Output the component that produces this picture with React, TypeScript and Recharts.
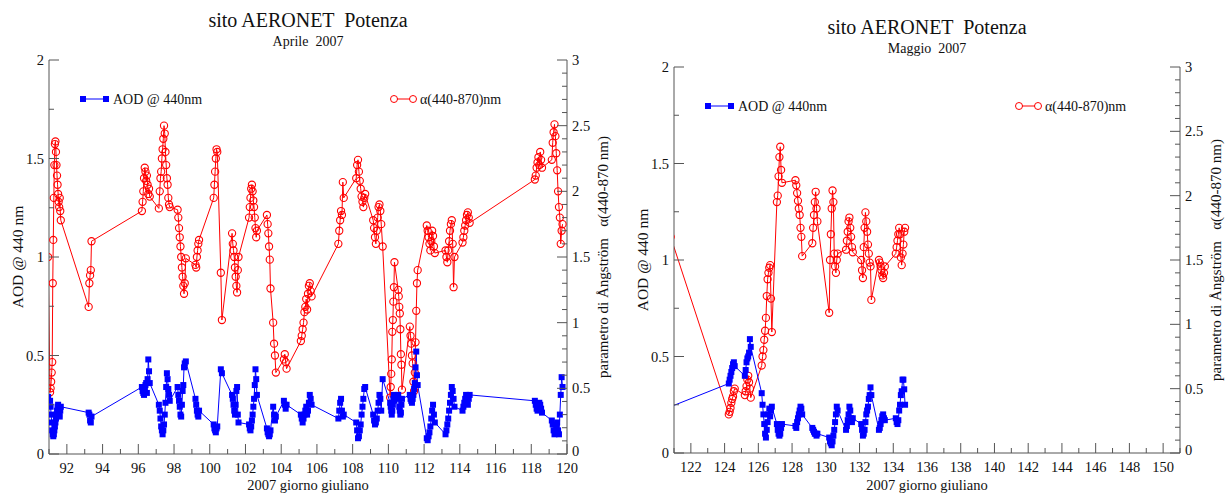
import { ComposedChart, Line, XAxis, YAxis, Legend } from 'recharts';

// ---- April 2007 (giorno giuliano 91-120) ----
const aprDay = [
  90.95,
  91.06, 91.09, 91.12, 91.15, 91.18, 91.21, 91.24, 91.27, 91.3, 91.33, 91.36, 91.39, 91.42, 91.45, 91.48, 91.51, 91.54, 91.57, 91.6, 91.63, 91.66,
  93.22, 93.26, 93.3, 93.34, 93.38,
  96.2, 96.24, 96.28, 96.32, 96.36, 96.4, 96.44, 96.48, 96.52, 96.56, 96.6, 96.64,
  97.15, 97.2, 97.24, 97.28, 97.32, 97.36, 97.4, 97.44, 97.48, 97.52, 97.56, 97.6, 97.64, 97.68, 97.72, 97.76,
  98.2, 98.24, 98.28, 98.32, 98.36, 98.4, 98.44, 98.48, 98.52, 98.56, 98.6, 98.66,
  99.2, 99.24, 99.28, 99.32, 99.36, 99.4,
  100.22, 100.26, 100.3, 100.34, 100.38, 100.42, 100.62, 100.68,
  101.25, 101.29, 101.33, 101.37, 101.41, 101.45, 101.49, 101.53, 101.57, 101.61,
  102.2, 102.24, 102.28, 102.32, 102.36, 102.4, 102.44, 102.48, 102.52, 102.56, 102.6, 102.64,
  103.2, 103.24, 103.28, 103.32, 103.36, 103.4, 103.55, 103.6, 103.65, 103.7,
  104.15, 104.2, 104.25, 104.3,
  105.1, 105.15, 105.2, 105.25, 105.3, 105.35, 105.4, 105.45, 105.5, 105.55, 105.6, 105.65, 105.7,
  107.2, 107.25, 107.3, 107.35, 107.4, 107.45, 107.5,
  108.2, 108.25, 108.3, 108.35, 108.4, 108.45, 108.5, 108.55, 108.6, 108.65, 108.7,
  109.15, 109.2, 109.25, 109.3, 109.35, 109.4, 109.45, 109.5, 109.55, 109.6, 109.68,
  110.1, 110.13, 110.16, 110.19, 110.22, 110.25, 110.28, 110.31, 110.34,
  110.55, 110.58, 110.61, 110.64, 110.67, 110.7, 110.73, 110.76,
  111.2, 111.24, 111.28, 111.32, 111.36, 111.4, 111.44, 111.48, 111.52, 111.56, 111.6, 111.64,
  112.15, 112.2, 112.25, 112.3, 112.35, 112.4, 112.45, 112.5, 112.55, 112.6,
  113.2, 113.25, 113.3, 113.35, 113.4, 113.45, 113.5, 113.55, 113.6, 113.65, 113.7,
  114.15, 114.2, 114.25, 114.3, 114.35, 114.4, 114.45, 114.5, 114.55,
  118.2, 118.25, 118.3, 118.35, 118.4, 118.45, 118.5, 118.55, 118.6,
  119.15, 119.2, 119.25, 119.3, 119.35, 119.4, 119.45, 119.5, 119.55, 119.6, 119.65, 119.7, 119.75,
];
const aprAod = [
  0.29,
  0.27, 0.24, 0.2, 0.16, 0.12, 0.1, 0.09, 0.1, 0.12, 0.14, 0.16, 0.18, 0.2, 0.22, 0.24, 0.25, 0.22, 0.2, 0.19, 0.22, 0.24,
  0.21, 0.2, 0.17, 0.16, 0.19,
  0.34, 0.32, 0.31, 0.3, 0.33, 0.35, 0.36, 0.31, 0.38, 0.48, 0.42, 0.36,
  0.25, 0.22, 0.18, 0.14, 0.12, 0.1, 0.12, 0.15, 0.2, 0.26, 0.34, 0.41, 0.38, 0.33, 0.3, 0.27,
  0.34, 0.3, 0.27, 0.24, 0.2, 0.19, 0.25, 0.32, 0.35, 0.44, 0.46, 0.47,
  0.28, 0.25, 0.22, 0.2, 0.19, 0.22,
  0.15, 0.13, 0.12, 0.11, 0.13, 0.14, 0.43, 0.41,
  0.3, 0.28, 0.25, 0.22, 0.2, 0.25, 0.32, 0.34, 0.2, 0.16,
  0.15, 0.13, 0.12, 0.14, 0.17, 0.2, 0.24, 0.28, 0.35, 0.43, 0.38, 0.3,
  0.13, 0.11, 0.1, 0.09, 0.1, 0.12, 0.24, 0.2, 0.17, 0.19,
  0.27, 0.25, 0.23, 0.25,
  0.2, 0.18, 0.16, 0.18, 0.2, 0.22, 0.24, 0.2, 0.22, 0.26, 0.3, 0.28, 0.25,
  0.18, 0.22, 0.26, 0.28, 0.22, 0.19, 0.2,
  0.16, 0.12, 0.08, 0.09, 0.12, 0.15, 0.2, 0.24, 0.28, 0.33, 0.34,
  0.2, 0.17, 0.15, 0.16, 0.18, 0.22, 0.26, 0.3, 0.28, 0.22, 0.38,
  0.26, 0.24, 0.22, 0.2, 0.22, 0.25, 0.28, 0.3, 0.27,
  0.3, 0.28, 0.24, 0.22, 0.2, 0.21, 0.25, 0.28,
  0.3, 0.28, 0.27, 0.26, 0.28, 0.3, 0.33, 0.36, 0.44, 0.52, 0.4, 0.35,
  0.08, 0.07, 0.09, 0.11, 0.14, 0.18, 0.22, 0.25, 0.2, 0.16,
  0.1, 0.12, 0.15, 0.18, 0.22, 0.26, 0.3, 0.34, 0.32, 0.28, 0.24,
  0.22, 0.24, 0.26, 0.28, 0.3, 0.27, 0.25, 0.28, 0.3,
  0.27, 0.25, 0.23, 0.22, 0.24, 0.26, 0.25, 0.23, 0.21,
  0.17, 0.15, 0.12, 0.1, 0.11, 0.14, 0.16, 0.12, 0.1, 0.2, 0.3, 0.39, 0.34,
];
const aprAlpha = [
  1.5,
  0.47, 0.5, 0.55, 0.62, 0.7, 1.3, 1.63, 1.95, 2.2, 2.36, 2.38, 2.3, 2.2, 2.12, 2.05, 1.98, 1.92, 1.88, 1.95, 1.85, 1.78,
  1.12, 1.3, 1.36, 1.4, 1.62,
  1.85, 1.92, 2.0, 2.1, 2.18, 2.15, 2.08, 2.12, 2.05, 1.98, 2.02, 1.96,
  1.87, 2.0, 2.1, 2.15, 2.25, 2.32, 2.4, 2.5, 2.44, 2.3, 2.2, 2.1, 2.05, 1.95, 1.9, 1.88,
  1.86, 1.8, 1.72, 1.65, 1.58, 1.5, 1.42, 1.35, 1.28, 1.22, 1.3, 1.49,
  1.44, 1.42, 1.5, 1.55, 1.6, 1.63,
  1.95, 2.05, 2.15, 2.25, 2.32, 2.3, 1.38, 1.02,
  1.68, 1.6, 1.55, 1.5, 1.42, 1.35, 1.28, 1.23, 1.4, 1.5,
  1.8, 1.88, 1.95, 2.02, 2.05, 2.0, 1.93, 1.88, 1.8, 1.72, 1.65, 1.7,
  1.82, 1.75, 1.68, 1.58, 1.48, 1.26, 1.0, 0.84, 0.75, 0.62,
  0.72, 0.76, 0.7, 0.65,
  0.86, 0.9, 0.95, 1.0, 1.08, 1.12, 1.18, 1.1, 1.22, 1.28, 1.3, 1.24, 1.2,
  1.6, 1.7, 1.78, 1.85, 1.82, 2.07, 1.95,
  2.1, 2.2, 2.24, 2.15, 2.08, 2.02, 1.96, 1.92, 1.88, 1.95, 1.98,
  1.78, 1.72, 1.65, 1.6, 1.7, 1.8, 1.88, 1.9, 1.85, 1.75, 1.58,
  0.43, 0.51, 0.61, 0.72, 0.93, 1.02, 1.16, 1.27, 1.46,
  1.25, 1.2, 1.12, 1.07, 0.95, 0.76, 0.68, 0.49,
  0.97, 0.9, 0.84, 0.75, 0.69, 0.55, 0.48, 0.62, 0.85, 1.09, 1.3, 1.4,
  1.74, 1.7, 1.65, 1.6, 1.55, 1.62, 1.7, 1.66, 1.58, 1.53,
  1.55, 1.5, 1.46, 1.55, 1.62, 1.7, 1.75, 1.78, 1.6, 1.27, 1.5,
  1.61, 1.65, 1.7, 1.74, 1.78, 1.82, 1.84, 1.8, 1.76,
  2.09, 2.12, 2.18, 2.22, 2.26, 2.2, 2.3, 2.24, 2.18,
  2.24, 2.37, 2.45, 2.51, 2.42, 2.29, 2.16, 2.0, 1.88, 1.8, 1.6, 1.7, 1.75,
];

// ---- May 2007 (giorno giuliano 121-151) ----
const mayDay = [
  120.8,
  124.25, 124.3, 124.35, 124.4, 124.45, 124.5, 124.55, 124.6,
  125.2, 125.25, 125.3, 125.35, 125.4, 125.45, 125.5, 125.55,
  126.2, 126.25, 126.3, 126.35, 126.4, 126.45, 126.5, 126.55, 126.6, 126.65, 126.7, 126.75, 126.8,
  127.1, 127.15, 127.2, 127.25, 127.3, 127.35, 127.4,
  128.2, 128.25, 128.3, 128.35, 128.4, 128.45, 128.5, 128.55, 128.6,
  129.2, 129.25, 129.3, 129.35, 129.4, 129.45, 129.5,
  130.2, 130.25, 130.3, 130.35, 130.4, 130.45, 130.5, 130.55, 130.6, 130.65, 130.7,
  131.2, 131.25, 131.3, 131.35, 131.4, 131.45, 131.5, 131.55, 131.6,
  132.1, 132.15, 132.2, 132.25, 132.3, 132.35, 132.4, 132.45, 132.5, 132.55, 132.6, 132.65, 132.7,
  133.15, 133.2, 133.25, 133.3, 133.35, 133.4, 133.45, 133.5,
  134.15, 134.2, 134.25, 134.3, 134.35, 134.4, 134.45, 134.5, 134.55, 134.6, 134.65, 134.7,
];
const mayAod = [
  0.24,
  0.36, 0.38, 0.4, 0.42, 0.44, 0.46, 0.47, 0.45,
  0.4, 0.43, 0.47, 0.49, 0.5, 0.52, 0.59, 0.55,
  0.31, 0.25, 0.2, 0.15, 0.1, 0.08, 0.12, 0.16, 0.2, 0.23, 0.19, 0.22, 0.24,
  0.15, 0.12, 0.1, 0.09, 0.1, 0.13, 0.15,
  0.14, 0.13, 0.16, 0.18, 0.2, 0.22, 0.24, 0.23, 0.2,
  0.13, 0.12, 0.11, 0.1, 0.1, 0.09, 0.1,
  0.08, 0.06, 0.05, 0.04, 0.06, 0.09, 0.12, 0.16, 0.2, 0.24, 0.22,
  0.12, 0.14, 0.17, 0.2, 0.24, 0.22, 0.18, 0.16, 0.18,
  0.15, 0.12, 0.09, 0.1, 0.12, 0.16, 0.2, 0.22, 0.24, 0.28, 0.3, 0.34, 0.3,
  0.12, 0.13, 0.15, 0.17, 0.19, 0.2, 0.18, 0.17,
  0.18, 0.16, 0.15, 0.17, 0.22, 0.25, 0.3, 0.32, 0.38, 0.38, 0.33, 0.25,
];
const mayAlpha = [
  1.68,
  0.3, 0.32, 0.35, 0.39, 0.42, 0.44, 0.48, 0.5,
  0.45, 0.48, 0.52, 0.57, 0.6, 0.55, 0.5, 0.43,
  0.68, 0.75, 0.8, 0.88, 0.95, 1.05, 1.22, 1.35, 1.4, 1.44, 1.46, 1.2, 0.94,
  1.95, 2.0, 2.15, 2.3, 2.38, 2.2, 2.1,
  2.12, 2.08, 2.02, 1.96, 1.9, 1.85, 1.75, 1.68, 1.53,
  1.63, 1.75, 1.85, 1.95, 2.03, 1.9, 1.8,
  1.09, 1.5, 1.7, 1.9, 2.04, 1.95, 1.55, 1.45, 1.4, 1.5, 1.55,
  1.58, 1.65, 1.72, 1.8, 1.83, 1.75, 1.68, 1.6, 1.56,
  1.5, 1.42, 1.36, 1.6, 1.75, 1.87, 1.8, 1.72, 1.62, 1.55, 1.48, 1.45, 1.19,
  1.5, 1.48, 1.45, 1.42, 1.38, 1.36, 1.4, 1.45,
  1.55, 1.6, 1.65, 1.7, 1.75, 1.7, 1.52, 1.46, 1.55, 1.62, 1.72, 1.75,
];

// ---- axis ticks ----
const aprTicks = [91, 92, 93, 94, 95, 96, 97, 98, 99, 100, 101, 102, 103, 104, 105, 106, 107, 108, 109, 110, 111, 112, 113, 114, 115, 116, 117, 118, 119, 120];
const aprLabels = [92, 94, 96, 98, 100, 102, 104, 106, 108, 110, 112, 114, 116, 118, 120];
const mayTicks = [121, 122, 123, 124, 125, 126, 127, 128, 129, 130, 131, 132, 133, 134, 135, 136, 137, 138, 139, 140, 141, 142, 143, 144, 145, 146, 147, 148, 149, 150, 151];
const mayLabels = [122, 124, 126, 128, 130, 132, 134, 136, 138, 140, 142, 144, 146, 148, 150];
const aodTicks = [0, 0.25, 0.5, 0.75, 1, 1.25, 1.5, 1.75, 2];
const aodLabels = [0, 0.5, 1, 1.5, 2];
const alphaTicks = [0, 0.1, 0.2, 0.3, 0.4, 0.5, 0.6, 0.7, 0.8, 0.9, 1, 1.1, 1.2, 1.3, 1.4, 1.5, 1.6, 1.7, 1.8, 1.9, 2, 2.1, 2.2, 2.3, 2.4, 2.5, 2.6, 2.7, 2.8, 2.9, 3];
const alphaLabels = [0, 0.5, 1, 1.5, 2, 2.5, 3];

const FONT = '"Liberation Serif", "Times New Roman", serif';
const AXIS = '#555';
const INK = '#111';
const BLUE = '#0000ff';
const RED = '#ff0000';

const toRows = (days: number[], aod: number[], alpha: number[]) =>
  days.map((d, i) => ({ day: d, aod: aod[i], alpha: alpha[i] }));

// inward ticks; labels only on the major ones
const xTick = (labels: number[], side: 'top' | 'bottom') => (p: any) => {
  const v = p.payload.value;
  const major = labels.includes(v);
  const len = major ? 10 : 5;
  const dir = side === 'bottom' ? -1 : 1;
  return (
    <g key={`xt-${side}-${v}`}>
      <line x1={p.x} x2={p.x} y1={p.y} y2={p.y + dir * len} stroke={AXIS} strokeWidth={1} />
      {side === 'bottom' && major && (
        <text x={p.x} y={p.y + 19} textAnchor="middle" fontSize={14.5} fill={INK} fontFamily={FONT}>{v}</text>
      )}
    </g>
  );
};

const yTick = (labels: number[], side: 'left' | 'right') => (p: any) => {
  const v = p.payload.value;
  const major = labels.includes(v);
  const len = major ? 10 : 5;
  const dir = side === 'left' ? 1 : -1;
  // the right-hand 0 sits a little up so it clears the last day label
  const lift = side === 'right' && v === 0 ? -3 : 0;
  return (
    <g key={`yt-${side}-${v}`}>
      <line x1={p.x} x2={p.x + dir * len} y1={p.y} y2={p.y} stroke={AXIS} strokeWidth={1} />
      {major && (
        <text x={p.x - dir * 5} y={p.y + lift} textAnchor={side === 'left' ? 'end' : 'start'} dominantBaseline="central"
          fontSize={14.5} fill={INK} fontFamily={FONT}>{v}</text>
      )}
    </g>
  );
};

const squareDot = (p: any) => (
  <rect key={`sq-${p.index}`} x={p.cx - 3} y={p.cy - 3} width={6} height={6} fill={BLUE} />
);
const ringDot = (p: any) => (
  <circle key={`rg-${p.index}`} cx={p.cx} cy={p.cy} r={3.6} fill="none" stroke={RED} strokeWidth={1.1} />
);

function Panel({ left, width, yLeftW, yRightW, top, month, rows, domain, ticks, labels }: any) {
  const height = 494;
  const plotW = width - yLeftW - yRightW;
  const cx = yLeftW + plotW / 2;

  const legend = () => (
    <svg width={width} height={140} style={{ position: 'absolute', left: 0, top: 0, overflow: 'visible' }}>
      <line x1={yLeftW + 34} x2={yLeftW + 57} y1={top + 39} y2={top + 39} stroke={BLUE} />
      <rect x={yLeftW + 31} y={top + 36} width={6} height={6} fill={BLUE} />
      <rect x={yLeftW + 54} y={top + 36} width={6} height={6} fill={BLUE} />
      <text x={yLeftW + 64} y={top + 44} fontSize={14} fill={INK} fontFamily={FONT}>AOD @ 440nm</text>
      <line x1={yLeftW + 348} x2={yLeftW + 361} y1={top + 39} y2={top + 39} stroke={RED} />
      <circle cx={yLeftW + 345} cy={top + 39} r={3.5} fill="none" stroke={RED} />
      <circle cx={yLeftW + 364} cy={top + 39} r={3.5} fill="none" stroke={RED} />
      <text x={yLeftW + 371} y={top + 44} fontSize={14} fill={INK} fontFamily={FONT}>α(440-870)nm</text>
    </svg>
  );

  return (
    <div style={{ position: 'absolute', left, top: 0, width, height, fontFamily: FONT }}>
      <svg width={width} height={top} style={{ position: 'absolute', left: 0, top: 0 }}>
        <text x={cx} y={top - 33} textAnchor="middle" fontSize={20} fill={INK} fontFamily={FONT} style={{ whiteSpace: 'pre' }}>
          sito AERONET  Potenza
        </text>
        <text x={cx} y={top - 14} textAnchor="middle" fontSize={14} fill={INK} fontFamily={FONT} style={{ whiteSpace: 'pre' }}>
          {`${month}  2007`}
        </text>
      </svg>
      <ComposedChart width={width} height={height} data={rows} margin={{ top, right: 0, bottom: 0, left: 0 }}>
        <XAxis xAxisId="bottom" dataKey="day" type="number" domain={domain} ticks={ticks} allowDataOverflow
          interval={0} height={height - top - (top === 60 ? 394 : 386)} tickSize={0} tickMargin={0}
          stroke={AXIS} tick={xTick(labels, 'bottom')}
          label={({ viewBox }: any) => (
            <text x={viewBox.x + viewBox.width / 2} y={viewBox.y + viewBox.height - 4} textAnchor="middle"
              fontSize={14.5} fill={INK} fontFamily={FONT}>2007 giorno giuliano</text>
          )} />
        <XAxis xAxisId="top" orientation="top" dataKey="day" type="number" domain={domain} ticks={ticks}
          allowDataOverflow interval={0} height={0} tickSize={0} tickMargin={0} stroke={AXIS}
          tick={xTick(labels, 'top')} />
        <YAxis yAxisId="aod" orientation="left" width={yLeftW} domain={[0, 2]} ticks={aodTicks} allowDataOverflow
          interval={0} tickSize={0} tickMargin={0} stroke={AXIS} tick={yTick(aodLabels, 'left')}
          label={({ viewBox }: any) => {
            const x = viewBox.x + viewBox.width - 32;
            const y = viewBox.y + viewBox.height / 2;
            return (
              <text x={x} y={y} transform={`rotate(-90 ${x} ${y})`} textAnchor="middle" dominantBaseline="central"
                fontSize={15.5} fill={INK} fontFamily={FONT}>AOD @ 440 nm</text>
            );
          }} />
        <YAxis yAxisId="alpha" orientation="right" width={yRightW} domain={[0, 3]} ticks={alphaTicks} allowDataOverflow
          interval={0} tickSize={0} tickMargin={0} stroke={AXIS} tick={yTick(alphaLabels, 'right')}
          label={({ viewBox }: any) => {
            const x = viewBox.x + 36;
            const y = viewBox.y + viewBox.height / 2;
            return (
              <text x={x} y={y} transform={`rotate(-90 ${x} ${y})`} textAnchor="middle" dominantBaseline="central"
                fontSize={15} fill={INK} fontFamily={FONT} style={{ whiteSpace: 'pre' }}>
                parametro di Ångström   α(440-870 nm)
              </text>
            );
          }} />
        <Legend content={legend} wrapperStyle={{ left: 0, top: 0, width, height: 0 }} />
        <Line xAxisId="bottom" yAxisId="alpha" dataKey="alpha" stroke={RED} strokeWidth={1} dot={ringDot}
          activeDot={false} isAnimationActive={false} />
        <Line xAxisId="bottom" yAxisId="aod" dataKey="aod" stroke={BLUE} strokeWidth={1} dot={squareDot}
          activeDot={false} isAnimationActive={false} />
      </ComposedChart>
    </div>
  );
}

export default function App() {
  return (
    <div style={{ position: 'absolute', left: 0, top: 0, width: 1232, height: 494, background: '#fff' }}>
      <Panel left={0} width={620} yLeftW={49} yRightW={53} top={60} month="Aprile"
        rows={toRows(aprDay, aprAod, aprAlpha)} domain={[91, 120]} ticks={aprTicks} labels={aprLabels} />
      <Panel left={620} width={612} yLeftW={54} yRightW={52} top={67} month="Maggio"
        rows={toRows(mayDay, mayAod, mayAlpha)} domain={[121, 151]} ticks={mayTicks} labels={mayLabels} />
    </div>
  );
}
